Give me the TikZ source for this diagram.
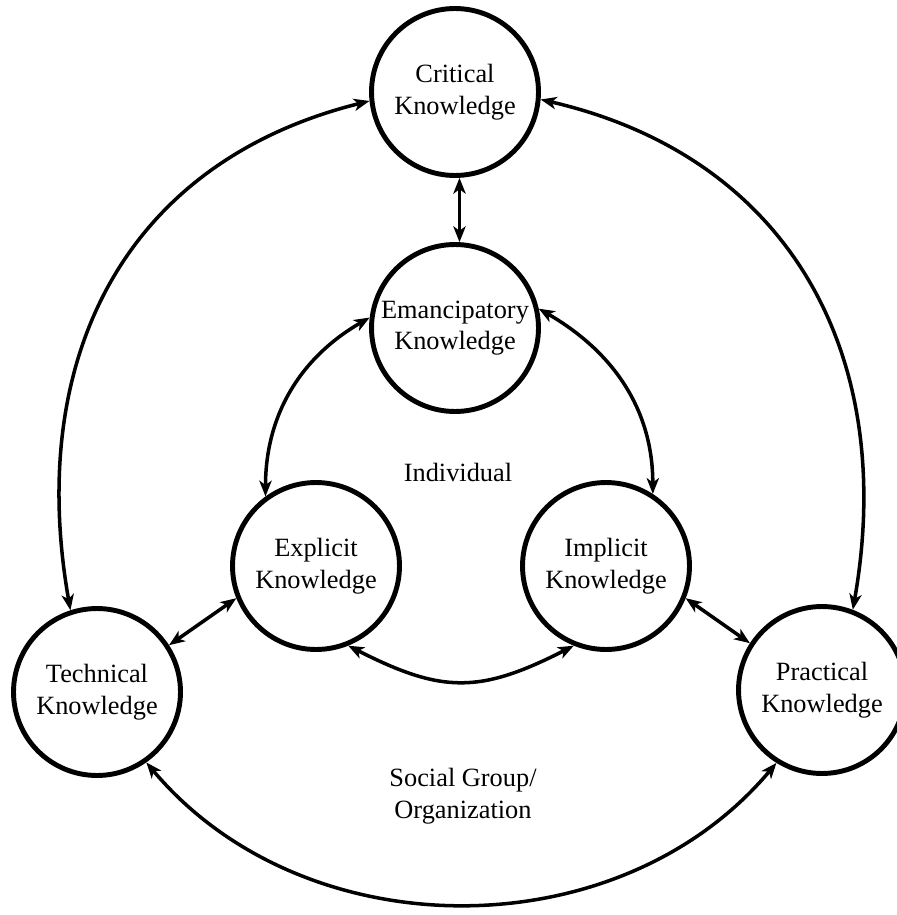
\documentclass[tikz,border=0pt]{standalone}
\usepackage{fontspec}
\setmainfont{Liberation Serif}
\usepackage{tikz}
\usetikzlibrary{arrows.meta}

\begin{document}
\begin{tikzpicture}[x=0.02cm,y=0.02cm,>={Stealth[length=9pt,width=7pt,inset=2.5pt]},
  know/.style={circle,draw,line width=2.8pt,minimum size=3.34cm,inner sep=0pt,align=center,font=\fontsize{15}{18}\selectfont},
  lbl/.style={align=center,font=\fontsize{15}{18}\selectfont},
  link/.style={<->,line width=2pt}]

\useasboundingbox (0,0) rectangle (896,-915);

\node[know] (crit)  at (455,-92)  {Critical\\Knowledge};
\node[know] (emanc) at (455,-328) {Emancipatory\\Knowledge};
\node[know] (expl)  at (316,-566) {Explicit\\Knowledge};
\node[know] (impl)  at (606,-566) {Implicit\\Knowledge};
\node[know] (tech)  at (97,-692)  {Technical\\Knowledge};
\node[know] (prac)  at (822,-690) {Practical\\Knowledge};

\node[lbl] (indiv) at (458,-472) {Individual};
\node[lbl] (group) at (463,-796) {Social Group/\\Organization};

\path (crit.273) edge[link] (emanc.87)
      (crit.186) edge[link, out=194, in=100, looseness=1.1] (tech.108)
      (crit.355) edge[link, out=-13, in=80, looseness=1.1] (prac.69)
      (tech.305) edge[link, out=-50, in=230] (prac.238);

\path (emanc.173) edge[link, out=210, in=90] (expl.126)
      (emanc.13)  edge[link, out=-30, in=90] (impl.57)
      (expl.292)  edge[link, out=-27, in=207, looseness=1.2] (impl.248)
      (tech.33)   edge[link] (expl.202)
      (impl.-22)  edge[link] (prac.147);

\end{tikzpicture}
\end{document}
